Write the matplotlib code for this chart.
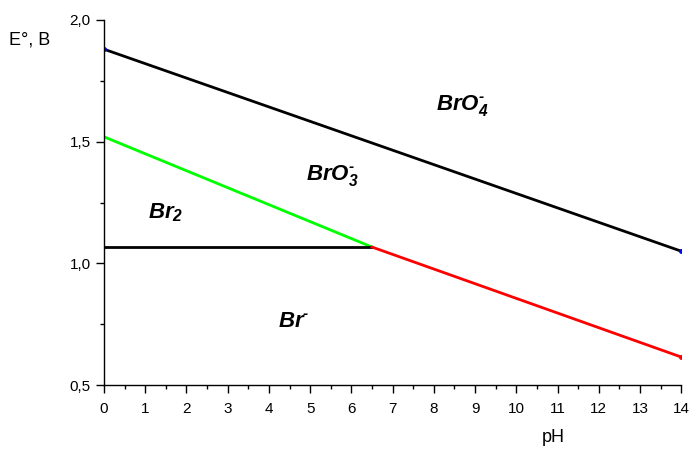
import matplotlib.pyplot as plt
from matplotlib.ticker import MultipleLocator, FuncFormatter

plt.rcParams['font.family'] = ['Liberation Sans', 'DejaVu Sans']
plt.rcParams['mathtext.fontset'] = 'custom'
plt.rcParams['mathtext.bf'] = 'Liberation Sans:bold:italic'
plt.rcParams['mathtext.it'] = 'Liberation Sans:italic'
plt.rcParams['mathtext.rm'] = 'Liberation Sans:bold:italic'

# boundary lines of the Pourbaix diagram (pH, E)
bro4_ph = [0, 14]
bro4_e = [1.88, 1.05]
bro3_ph = [0, 6.5]
bro3_e = [1.52, 1.067]
br2_ph = [0, 6.5]
br2_e = [1.067, 1.067]
brm_ph = [6.5, 14]
brm_e = [1.067, 0.615]

region_labels = [r'$\mathbf{BrO_4^{\text{-}}}$', r'$\mathbf{BrO_3^{\text{-}}}$',
                 r'$\mathbf{Br_2}$', r'$\mathbf{Br^{\text{-}}}$']
region_x = [8.7, 5.53, 1.5, 4.61]
region_y = [1.65, 1.36, 1.21, 0.763]

fig = plt.figure(figsize=(6.93, 4.5), dpi=100)
ax = fig.add_axes([0.150, 0.1444, 0.833, 0.8112])

ax.plot(bro4_ph, bro4_e, color='black', lw=2)
ax.plot(bro3_ph, bro3_e, color='#00ff00', lw=2)
ax.plot(br2_ph, br2_e, color='black', lw=2)
ax.plot(brm_ph, brm_e, color='#ff0000', lw=2)
# small end-point markers
ax.plot(bro4_ph, bro4_e, ls='none', marker='o', ms=2.5, color='blue')
ax.plot(brm_ph[1:], brm_e[1:], ls='none', marker='o', ms=2.5, color='red')

for lab, x, y in zip(region_labels, region_x, region_y):
    ax.text(x, y, lab, fontsize=16, ha='center', va='center')

ax.set_xlim(0, 14)
ax.set_ylim(0.5, 2.0)
ax.xaxis.set_major_locator(MultipleLocator(1))
ax.xaxis.set_minor_locator(MultipleLocator(0.5))
ax.yaxis.set_major_locator(MultipleLocator(0.5))
ax.yaxis.set_minor_locator(MultipleLocator(0.25))
ax.yaxis.set_major_formatter(FuncFormatter(lambda v, p: f"{v:.1f}".replace('.', ',')))

for s in ['top', 'right']:
    ax.spines[s].set_visible(False)
for s in ['left', 'bottom']:
    ax.spines[s].set_linewidth(1)
ax.tick_params(which='major', direction='out', length=6, width=1, labelsize=11)
ax.tick_params(which='minor', direction='out', length=3, width=1)
ax.tick_params(axis='x', pad=6)

fig.text(0.043, 0.911, 'E°, B', fontsize=13, ha='center', va='center')
fig.text(0.798, 0.027, 'pH', fontsize=13, ha='center', va='center')

fig.savefig('out.png', dpi=100)
